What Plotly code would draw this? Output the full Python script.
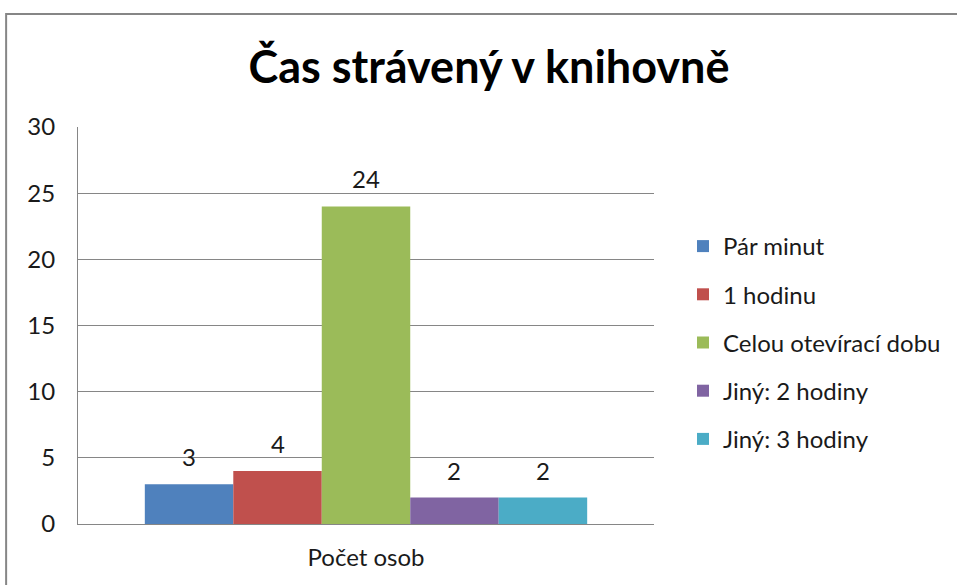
import plotly.graph_objects as go

title = "Čas strávený v knihovně"
category = ["Počet osob"]
series_names = ["Pár minut", "1 hodinu", "Celou otevírací dobu", "Jiný: 2 hodiny", "Jiný: 3 hodiny"]
series_values = [3, 4, 24, 2, 2]
colors = ["#4F81BD", "#C0504D", "#9BBB59", "#8064A2", "#4BACC6"]
y_ticks = [0, 5, 10, 15, 20, 25, 30]

FONT = "Lato"
TXT = "#1a1a1a"
FS = 24
bargap = 0.232

fig = go.Figure()
for i, (name, val, col) in enumerate(zip(series_names, series_values, colors)):
    fig.add_trace(go.Bar(
        x=category, y=[val], name=name, marker=dict(color=col, line=dict(width=0)),
        legendgroup=name, hoverinfo="skip",
    ))

n = len(series_values)
w = (1 - bargap) / n
annotations = []
for i, val in enumerate(series_values):
    xc = -0.5 * (1 - bargap) + (i + 0.5) * w
    annotations.append(dict(
        x=xc, y=val, xref="x", yref="y", text=str(val), showarrow=False,
        yanchor="bottom", yshift=11, font=dict(family=FONT, size=FS, color=TXT),
    ))

L, R, T, B = 78, 302, 127, 61
W, H = 957, 585
pw, ph = W - L - R, H - T - B

def px_x(p):
    return (p - L) / pw

def px_y(p):
    return (H - B - p) / ph

fig.update_layout(
    width=W, height=H,
    margin=dict(l=L, r=R, t=T, b=B),
    paper_bgcolor="white", plot_bgcolor="white",
    barmode="group", bargap=bargap, bargroupgap=0,
    font=dict(family=FONT, size=FS, color=TXT),
    title=dict(text="<b>" + title + "</b>", x=489 / W, xanchor="center",
               y=1 - 67 / H, yanchor="middle", font=dict(family=FONT, size=45, color="black")),
    showlegend=True,
    legend=dict(x=px_x(683), xanchor="left", y=px_y(224), yanchor="top",
                font=dict(family=FONT, size=FS, color=TXT), tracegroupgap=14,
                traceorder="grouped", bgcolor="rgba(0,0,0,0)", itemwidth=30),
    annotations=annotations,
    shapes=[dict(type="rect", xref="paper", yref="paper",
                 x0=px_x(6), x1=px_x(1010), y0=px_y(640), y1=px_y(14),
                 line=dict(color="#868686", width=2), layer="below")],
    xaxis=dict(showline=True, linecolor="#868686", linewidth=1, ticks="",
               tickfont=dict(family=FONT, size=FS, color=TXT), ticklabelstandoff=12,
               showgrid=False, fixedrange=True),
    yaxis=dict(range=[0, 30], tickvals=y_ticks, showline=True, linecolor="#868686", linewidth=1,
               showgrid=True, gridcolor="#868686", gridwidth=1, ticks="", zeroline=False,
               tickfont=dict(family=FONT, size=FS, color=TXT), ticklabelstandoff=17,
               fixedrange=True),
)

fig.write_html("out.html", config={"displayModeBar": False},
               post_script="document.body.style.margin='0px';")
